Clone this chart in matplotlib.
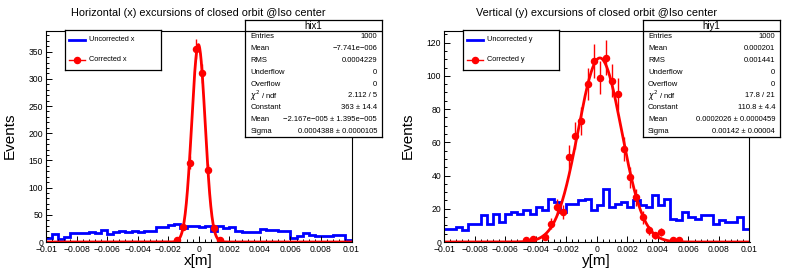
import numpy as np
import matplotlib
matplotlib.use("Agg")
import matplotlib.pyplot as plt
from matplotlib.ticker import MultipleLocator, FuncFormatter

plt.rcParams['font.family'] = ['Liberation Sans', 'DejaVu Sans']

# 50 bins from -0.01 to 0.01
edges = np.linspace(-0.01, 0.01, 51)

# uncorrected (blue) histograms
uncorr_x = [8, 14, 6, 9, 17, 17, 17, 19, 17, 22, 14, 19, 20, 19, 20, 19, 20, 20, 28, 28,
            31, 34, 25, 29, 30, 27, 29, 21, 30, 25, 27, 20, 19, 19, 19, 24, 22, 22, 21, 21,
            8, 11, 16, 12, 11, 11, 11, 12, 12, 4]
uncorr_y = [8, 8, 9, 7, 11, 11, 16, 11, 17, 12, 17, 18, 17, 19, 17, 21, 19, 26, 24, 18,
            23, 23, 25, 26, 19, 22, 32, 21, 23, 24, 21, 25, 22, 21, 28, 22, 26, 14, 13, 18,
            15, 14, 16, 16, 11, 13, 12, 12, 15, 8]

# corrected (red) histograms, non-empty bins only
corr_x_centers = [-0.0014, -0.0010, -0.0006, -0.0002, 0.0002, 0.0006, 0.0010, 0.0014]
corr_x_counts = [3, 28, 146, 355, 310, 132, 25, 3]
corr_y_centers = [-0.0046, -0.0042, -0.0034, -0.0030, -0.0026, -0.0022, -0.0018, -0.0014,
                  -0.0010, -0.0006, -0.0002, 0.0002, 0.0006, 0.0010, 0.0014, 0.0018,
                  0.0022, 0.0026, 0.0030, 0.0034, 0.0038, 0.0042, 0.0050, 0.0054]
corr_y_counts = [1, 2, 3, 11, 21, 18, 51, 64, 73, 95, 109, 99, 111, 97, 89, 56,
                 39, 27, 15, 7, 4, 6, 1, 1]

# gaussian fit parameters (constant, mean, sigma)
fit_x = (363.0, -2.167e-5, 0.0004388)
fit_y = (110.8, 0.0002026, 0.00142)

stats_x = [("Entries", "1000"), ("Mean", "\u22127.741e\u2212006"), ("RMS", "0.0004229"),
           ("Underflow", "0"), ("Overflow", "0"), ("$\\chi^2$ / ndf", "2.112 / 5"),
           ("Constant", "363 \u00b1 14.4"),
           ("Mean", "\u22122.167e\u2212005 \u00b1 1.395e\u2212005"),
           ("Sigma", "0.0004388 \u00b1 0.0000105")]
stats_y = [("Entries", "1000"), ("Mean", "0.000201"), ("RMS", "0.001441"),
           ("Underflow", "0"), ("Overflow", "0"), ("$\\chi^2$ / ndf", "17.8 / 21"),
           ("Constant", "110.8 \u00b1 4.4"),
           ("Mean", "0.0002026 \u00b1 0.0000459"),
           ("Sigma", "0.00142 \u00b1 0.00004")]

W, H = 796, 272
fig = plt.figure(figsize=(W / 100, H / 100), dpi=100)


def rect(x0, y0, x1, y1):
    return [x0 / W, 1 - y1 / H, (x1 - x0) / W, (y1 - y0) / H]


def fmt(v, pos):
    if abs(v) < 1e-12:
        return "0"
    s = ("%.3f" % v).rstrip("0")
    return s.replace("-", "\u2212")


def panel(ax_rect, uncorr, centers, counts, fit, ymax, ymaj, ymin, title, tcx, xlab,
          name, stats, srect, lrect, var):
    ax = fig.add_axes(rect(*ax_rect))
    ax.stairs(uncorr, edges, color=(0, 0, 1), lw=2.0, baseline=None)
    xx = np.linspace(-0.01, 0.01, 800)
    A, mu, sg = fit
    ax.plot(xx, A * np.exp(-0.5 * ((xx - mu) / sg) ** 2), color=(1, 0, 0), lw=2.0)
    c = np.array(counts, float)
    ax.errorbar(centers, c, yerr=np.sqrt(c), fmt="o", color=(1, 0, 0), ms=4.4,
                elinewidth=1.0, capsize=0)
    ax.set_xlim(-0.01, 0.01)
    ax.set_ylim(0, ymax)
    ax.xaxis.set_major_locator(MultipleLocator(0.002))
    ax.xaxis.set_minor_locator(MultipleLocator(0.0004))
    ax.yaxis.set_major_locator(MultipleLocator(ymaj))
    ax.yaxis.set_minor_locator(MultipleLocator(ymin))
    ax.xaxis.set_major_formatter(FuncFormatter(fmt))
    ax.tick_params(which="both", direction="in", labelsize=6.2, width=0.7, pad=2,
                   top=False, right=False)
    ax.tick_params(which="major", length=4)
    ax.tick_params(which="minor", length=2)
    for sp in ax.spines.values():
        sp.set_linewidth(0.8)
    fig.text(tcx / W, 1 - 13 / H, title, ha="center", va="center", fontsize=7.8)
    fig.text(tcx / W, 1 - 261 / H, xlab, ha="center", va="center", fontsize=11)
    fig.text((ax_rect[0] - 36) / W, 1 - 136 / H, "Events", ha="center", va="center",
             fontsize=11, rotation=90)

    # legend box
    lg = fig.add_axes(rect(*lrect))
    lg.set_xlim(0, 1)
    lg.set_ylim(0, 1)
    lg.set_xticks([])
    lg.set_yticks([])
    for sp in lg.spines.values():
        sp.set_linewidth(0.9)
    lg.plot([0.04, 0.21], [0.75, 0.75], color=(0, 0, 1), lw=2)
    lg.text(0.25, 0.75, "Uncorrected " + var, va="center", fontsize=5.3)
    lg.plot([0.04, 0.21], [0.25, 0.25], color=(1, 0, 0), lw=1)
    lg.plot([0.125], [0.25], "o", color=(1, 0, 0), ms=4.4)
    lg.text(0.25, 0.25, "Corrected " + var, va="center", fontsize=5.3)

    # stats box
    sb = fig.add_axes(rect(*srect))
    sb.set_xlim(0, 1)
    sb.set_ylim(1, 0)
    sb.set_xticks([])
    sb.set_yticks([])
    for sp in sb.spines.values():
        sp.set_linewidth(0.9)
    hh = 11.0 / (srect[3] - srect[1])
    sb.axhline(hh, color="black", lw=0.9)
    sb.text(0.5, hh / 2 + 0.005, name, ha="center", va="center", fontsize=7)
    rh = (1 - hh) / len(stats)
    for i, (k, v) in enumerate(stats):
        yy = hh + rh * (i + 0.5)
        sb.text(0.04, yy, k, ha="left", va="center", fontsize=5.5)
        sb.text(0.965, yy, v, ha="right", va="center", fontsize=5.5)
    return ax


panel((46, 31, 351.5, 242), uncorr_x, corr_x_centers, corr_x_counts, fit_x, 388, 50, 10,
      "Horizontal (x) excursions of closed orbit @Iso center", 198, "x[m]",
      "hix1", stats_x, (245, 20, 382, 137), (65, 29.5, 160.5, 69.5), "x")
panel((444, 31, 749.5, 242), uncorr_y, corr_y_centers, corr_y_counts, fit_y, 127, 20, 5,
      "Vertical (y) excursions of closed orbit @Iso center", 596, "y[m]",
      "hiy1", stats_y, (642.5, 20, 780, 137), (463, 29.5, 558.5, 69.5), "y")

fig.savefig("out.png", dpi=100)
